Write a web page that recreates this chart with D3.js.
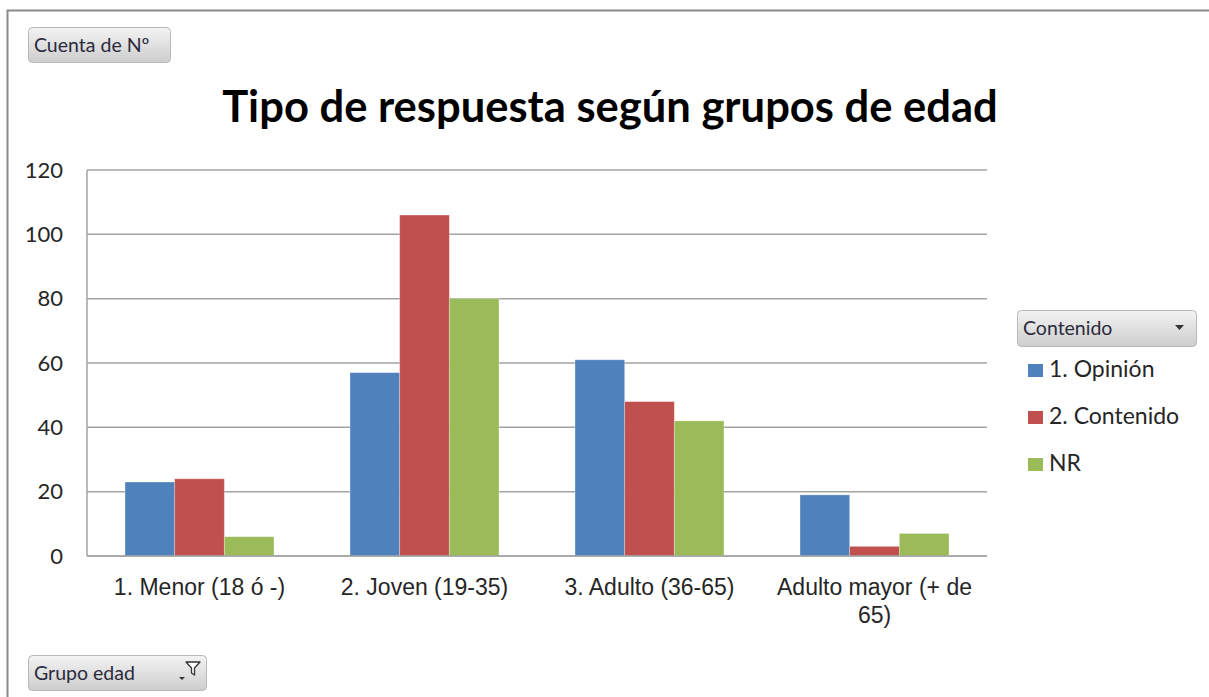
<!DOCTYPE html>
<html>
<head>
<meta charset="utf-8">
<script src="https://cdn.jsdelivr.net/npm/d3@7"></script>
<style>
  html, body { margin: 0; padding: 0; background: #fff; }
  svg { display: block; font-family: Lato, "Open Sans", "DejaVu Sans", sans-serif; }
</style>
</head>
<body>
<svg id="chart" width="1209" height="697"></svg>
<script>
// Pivot chart data: count of responses by age group and content type
const categories = ["1. Menor (18 ó -)", "2. Joven (19-35)", "3. Adulto (36-65)", "Adulto mayor (+ de 65)"];
const seriesNames = ["1. Opinión", "2. Contenido", "NR"];
const opinion   = [23, 57, 61, 19];
const contenido = [24, 106, 48, 3];
const nr        = [6, 80, 42, 7];
const yTicks = [0, 20, 40, 60, 80, 100, 120];
const colors = ["#4f81bd", "#c0504d", "#9bbb59"];

const seriesValues = [opinion, contenido, nr];
const rows = categories.map((c, i) => ({
  category: c,
  values: seriesNames.map((s, j) => ({ series: s, value: seriesValues[j][i], color: colors[j] }))
}));

const svg = d3.select("#chart");
const textColor = "#262626";

// Gradient for the pivot field buttons
const defs = svg.append("defs");
const grad = defs.append("linearGradient").attr("id", "btnGrad").attr("x1", 0).attr("y1", 0).attr("x2", 0).attr("y2", 1);
grad.append("stop").attr("offset", "0%").attr("stop-color", "#f3f3f3");
grad.append("stop").attr("offset", "100%").attr("stop-color", "#cdcdcd");

// Chart frame (top and left edges)
svg.append("path")
  .attr("d", "M7.5,697 V10.5 H1209")
  .attr("fill", "none").attr("stroke", "#8a8a8a").attr("stroke-width", 2);

// Plot geometry
const plot = { left: 87, right: 987, top: 170, bottom: 556 };

const x0 = d3.scaleBand().domain(categories).range([plot.left, plot.right])
  .paddingInner(0.338).paddingOuter(0.169);
const x1 = d3.scaleBand().domain(seriesNames).range([0, x0.bandwidth()]);
const y = d3.scaleLinear().domain([0, 120]).range([plot.bottom, plot.top]);

// Horizontal gridlines
svg.append("g").selectAll("line").data(yTicks).join("line")
  .attr("x1", plot.left).attr("x2", plot.right)
  .attr("y1", d => y(d)).attr("y2", d => y(d))
  .attr("stroke", "#a3a3a3").attr("stroke-width", 1.5);

// Value axis line
svg.append("line")
  .attr("x1", plot.left).attr("x2", plot.left)
  .attr("y1", plot.top).attr("y2", plot.bottom)
  .attr("stroke", "#a3a3a3").attr("stroke-width", 1.5);

// Y axis labels
const yAxis = d3.axisLeft(y).tickValues(yTicks).tickSize(0).tickPadding(24);
const yg = svg.append("g").attr("transform", `translate(${plot.left},0)`).call(yAxis);
yg.select(".domain").remove();
yg.selectAll("text").attr("font-size", 22).attr("fill", textColor)
  .style("font-family", "Lato, sans-serif");

// Bars
const groups = svg.append("g").selectAll("g").data(rows).join("g")
  .attr("transform", d => `translate(${x0(d.category)},0)`);
groups.selectAll("rect").data(d => d.values).join("rect")
  .attr("x", d => x1(d.series))
  .attr("width", x1.bandwidth())
  .attr("y", d => y(d.value))
  .attr("height", d => y(0) - y(d.value))
  .attr("fill", d => d.color)
  .attr("stroke", "rgba(255,255,255,0.35)").attr("stroke-width", 0.8);

// Category axis line
svg.append("line")
  .attr("x1", plot.left).attr("x2", plot.right)
  .attr("y1", plot.bottom).attr("y2", plot.bottom)
  .attr("stroke", "#a3a3a3").attr("stroke-width", 1.5);

// Category labels with wrapping
const xAxis = d3.axisBottom(x0).tickSize(0).tickPadding(0);
const xg = svg.append("g").attr("transform", `translate(0,${plot.bottom})`).call(xAxis);
xg.select(".domain").remove();
xg.selectAll("text").attr("font-size", 23).attr("fill", textColor).attr("dy", null).attr("y", 0)
  .each(function(label) {
    const t = d3.select(this);
    t.text(null);
    const words = label.split(" ");
    const maxW = 215;
    let lines = [], line = [];
    const probe = t.append("tspan");
    words.forEach(w => {
      const trial = line.concat([w]).join(" ");
      probe.text(trial);
      if (probe.node().getComputedTextLength() > maxW && line.length) {
        lines.push(line.join(" "));
        line = [w];
      } else {
        line.push(w);
      }
    });
    lines.push(line.join(" "));
    probe.remove();
    lines.forEach((l, i) => {
      t.append("tspan").attr("x", 0).attr("y", 39 + i * 28).text(l);
    });
  });

// Title
const title = svg.append("text")
  .attr("x", 610).attr("y", 122)
  .attr("text-anchor", "middle")
  .attr("font-size", 38).attr("font-weight", "bold").attr("fill", "#000")
  .text("Tipo de respuesta según grupos de edad");
const tw = title.node().getComputedTextLength();
title.attr("font-size", 38 * 776 / tw);

// Pivot field button helper
function fieldButton(x, yTop, w, h, label) {
  const g = svg.append("g").attr("transform", `translate(${x},${yTop})`);
  g.append("rect").attr("x", 0.5).attr("y", 0.5).attr("width", w).attr("height", h)
    .attr("rx", 4).attr("fill", "url(#btnGrad)").attr("stroke", "#b8b8b8");
  g.append("text").attr("x", 6).attr("y", h / 2 + 7)
    .attr("font-size", 19.5).attr("fill", "#2b2b3b").text(label);
  return g;
}

fieldButton(28, 27, 142, 35, "Cuenta de Nº");

// Legend header button with dropdown arrow
const lh = fieldButton(1017, 310, 179, 36, "Contenido");
lh.append("path").attr("d", "M158,15 h9 l-4.5,5 z").attr("fill", "#333");

// Axis field button with filter icon
const ab = fieldButton(28, 655, 178, 35, "Grupo edad");
ab.append("path").attr("d", "M151,22 h6 l-3,3 z").attr("fill", "#333");
ab.append("path").attr("d", "M158,7 h14 l-5.5,6 v7 l-3,-2 v-5 z")
  .attr("fill", "#fff").attr("stroke", "#333").attr("stroke-width", 1.3).attr("stroke-linejoin", "round");

// Legend entries
const legend = svg.append("g").attr("transform", "translate(1028,364)");
const li = legend.selectAll("g").data(seriesNames).join("g")
  .attr("transform", (d, i) => `translate(0,${i * 47})`);
li.append("rect").attr("width", 15).attr("height", 13).attr("fill", (d, i) => colors[i]);
li.append("text").attr("x", 21).attr("y", 13).attr("font-size", 23).attr("fill", textColor).text(d => d);
</script>
</body>
</html>
